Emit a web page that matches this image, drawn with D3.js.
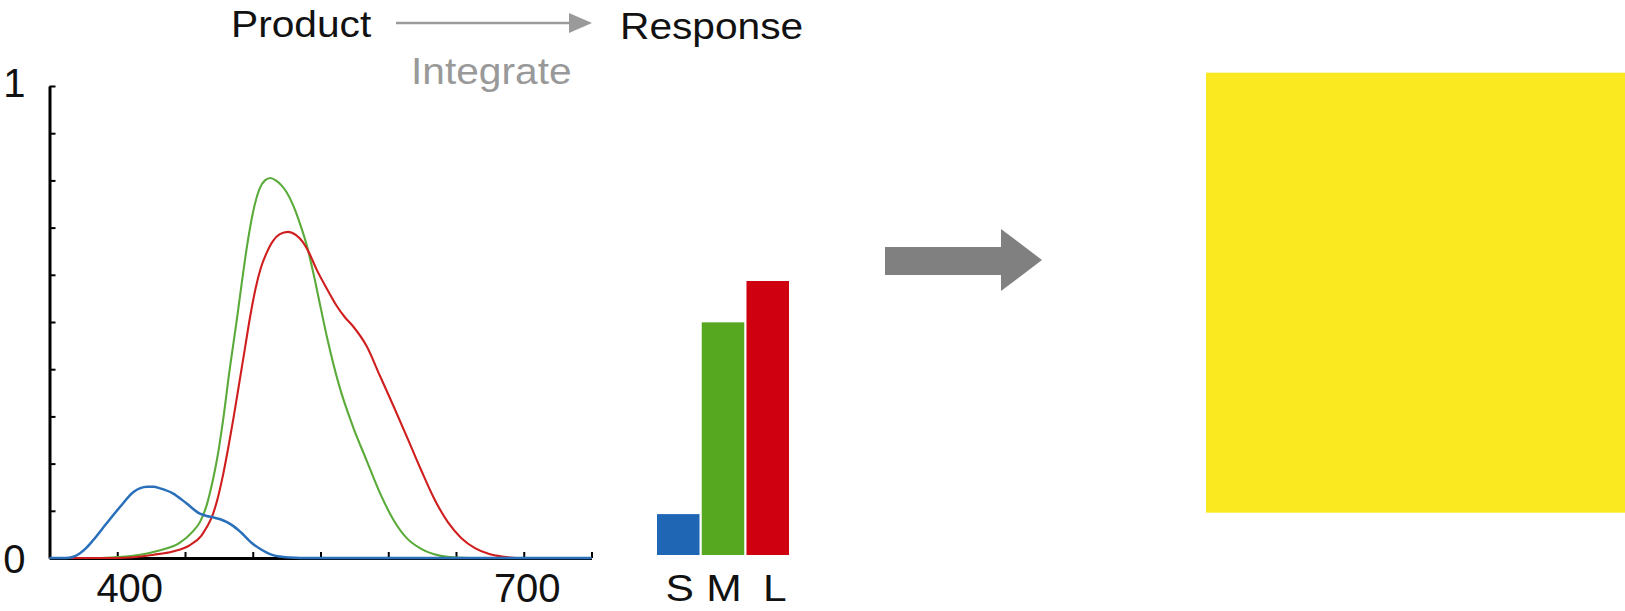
<!DOCTYPE html>
<html><head><meta charset="utf-8">
<script src="https://cdn.jsdelivr.net/npm/d3@7"></script>
<style>
html,body{margin:0;padding:0;background:#fff;}
svg{display:block;font-family:"Liberation Sans", Arial, Helvetica, sans-serif;}
</style></head><body>
<svg id="chart" width="1625" height="611"></svg>
<script>
// ---------- data ----------
const wavelengthTicks = [350, 400, 450, 500, 550, 600, 650, 700, 750];
const wavelengthLabels = [400, 700];
const responseTicks = [0, 0.1, 0.2, 0.3, 0.4, 0.5, 0.6, 0.7, 0.8, 0.9, 1];
const responseLabels = [0, 1];

const blueCurve = [[350,0],[362,0],[367,0.002],[372,0.009],[377,0.021],[382,0.037],[392,0.073],[402,0.108],[412,0.140],[417,0.148],[422,0.151],[427,0.151],[431,0.148],[441,0.137],[451,0.116],[461,0.094],[466,0.089],[471,0.086],[476,0.082],[481,0.076],[486,0.067],[491,0.055],[500,0.030],[505,0.020],[510,0.012],[515,0.006],[520,0.003],[527,0.001],[535,0],[750,0]];
const greenCurve = [[350,0],[385,0],[400,0.002],[417,0.007],[431,0.016],[446,0.032],[456,0.057],[461,0.076],[466,0.112],[470,0.158],[474,0.215],[478,0.290],[483,0.400],[488,0.500],[492,0.585],[496,0.665],[500,0.730],[505,0.782],[509,0.800],[513,0.805],[517,0.800],[521,0.790],[525,0.775],[530,0.746],[535,0.707],[540,0.661],[545,0.600],[550,0.532],[555,0.465],[564,0.363],[574,0.278],[584,0.207],[594,0.137],[604,0.080],[614,0.041],[624,0.020],[638,0.005],[650,0.001],[660,0],[750,0]];
const redCurve = [[350,0],[400,0],[427,0.007],[441,0.014],[454,0.028],[462,0.047],[466,0.065],[470,0.088],[474,0.125],[478,0.175],[482,0.235],[486,0.300],[490,0.370],[494,0.440],[498,0.510],[502,0.570],[506,0.615],[510,0.645],[515,0.672],[520,0.686],[526,0.691],[532,0.684],[537,0.669],[542,0.644],[547,0.612],[555,0.569],[562,0.534],[568,0.510],[574,0.491],[584,0.449],[594,0.385],[604,0.321],[614,0.255],[624,0.188],[634,0.125],[644,0.076],[654,0.042],[664,0.021],[674,0.009],[684,0.003],[695,0],[750,0]];

const coneCategories = ["S", "M", "L"];
const coneResponses = [0.087, 0.495, 0.583];

const titleLeft = "Product";
const titleRight = "Response";
const arrowLabel = "Integrate";

// ---------- styles ----------
const colors = { S: "#1f66b5", M: "#55a81f", L: "#cf0010" };
const lineColors = { S: "#2a6fba", M: "#5aab3a", L: "#d01e1e" };
const FS = 40;

const svg = d3.select("#chart");

// scales
const x = d3.scaleLinear().domain([350, 750]).range([49.5, 591.5]);
const y = d3.scaleLinear().domain([0, 1]).range([558, 86]);

// axes
const yAxis = d3.axisLeft(y).tickValues(responseTicks).tickSize(-6).tickSizeOuter(0).tickPadding(24)
  .tickFormat(d => responseLabels.includes(d) ? String(d) : "");
const gy = svg.append("g").attr("transform", `translate(${x(350)},0)`).call(yAxis);

const xAxis = d3.axisBottom(x).tickValues(wavelengthTicks).tickSize(-6).tickSizeOuter(0).tickPadding(16)
  .tickFormat(d => wavelengthLabels.includes(d) ? String(d) : "");
const gx = svg.append("g").attr("transform", `translate(0,${y(0)})`).call(xAxis);

[gx, gy].forEach(g => {
  g.select(".domain").attr("stroke", "#000").attr("stroke-width", 3);
  g.selectAll(".tick line").attr("stroke", "#000").attr("stroke-width", 2);
  g.selectAll(".tick text").attr("font-size", FS).attr("fill", "#111")
    .attr("font-family", '"Liberation Sans", Arial, sans-serif');
});
const labelNudge = { 400: 12, 700: 3 };
gx.selectAll(".tick text").attr("dx", d => labelNudge[d] || 0);
gy.selectAll(".tick text").attr("dy", d => d === 1 ? "0.25em" : "0.37em");

// curves
const line = d3.line().x(d => x(d[0])).y(d => y(d[1])).curve(d3.curveMonotoneX);
svg.append("path").datum(greenCurve).attr("d", line).attr("fill", "none")
  .attr("stroke", lineColors.M).attr("stroke-width", 2.1);
svg.append("path").datum(redCurve).attr("d", line).attr("fill", "none")
  .attr("stroke", lineColors.L).attr("stroke-width", 2.1);
svg.append("path").datum(blueCurve).attr("d", line).attr("fill", "none")
  .attr("stroke", lineColors.S).attr("stroke-width", 2.5);

// bars
const xb = d3.scaleBand().domain(coneCategories).range([657, 789]).paddingInner(0.05).paddingOuter(0);
const yb = d3.scaleLinear().domain([0, 1]).range([555, 85]);
svg.append("g").selectAll("rect").data(coneCategories).join("rect")
  .attr("x", d => xb(d)).attr("width", xb.bandwidth())
  .attr("y", (d, i) => yb(coneResponses[i]))
  .attr("height", (d, i) => yb(0) - yb(coneResponses[i]))
  .attr("fill", d => colors[d]);
const barNudge = { S: 1.5, M: 1, L: 7 };
svg.append("g").selectAll("text").data(coneCategories).join("text")
  .attr("transform", d => `translate(${xb(d) + xb.bandwidth() / 2 + barNudge[d]},601) scale(1.15,1)`)
  .attr("text-anchor", "middle").attr("font-size", 37).attr("fill", "#111")
  .text(d => d);

// header texts and small arrow
const TS = 37, SX = 1.1;
svg.append("text").attr("transform", `translate(231,37) scale(${SX},1)`).attr("font-size", TS).attr("fill", "#111").text(titleLeft);
svg.append("text").attr("transform", `translate(620,39) scale(${SX},1)`).attr("font-size", TS).attr("fill", "#111").text(titleRight);
svg.append("text").attr("transform", `translate(411,84) scale(${SX},1)`).attr("font-size", TS).attr("fill", "#999").text(arrowLabel);
svg.append("line").attr("x1", 396).attr("x2", 572).attr("y1", 23).attr("y2", 23)
  .attr("stroke", "#9a9a9a").attr("stroke-width", 2.5);
svg.append("path").attr("d", "M569,13 L592,23 L569,33 Z").attr("fill", "#9a9a9a");

// big arrow
svg.append("path").attr("d", "M885,247 L1001,247 L1001,229 L1042,260 L1001,291 L1001,275 L885,275 Z")
  .attr("fill", "#808080");

// resulting colour patch
svg.append("rect").attr("x", 1206).attr("y", 72.7).attr("width", 1625 - 1206).attr("height", 440)
  .attr("fill", "#fae920");
</script>
</body></html>
